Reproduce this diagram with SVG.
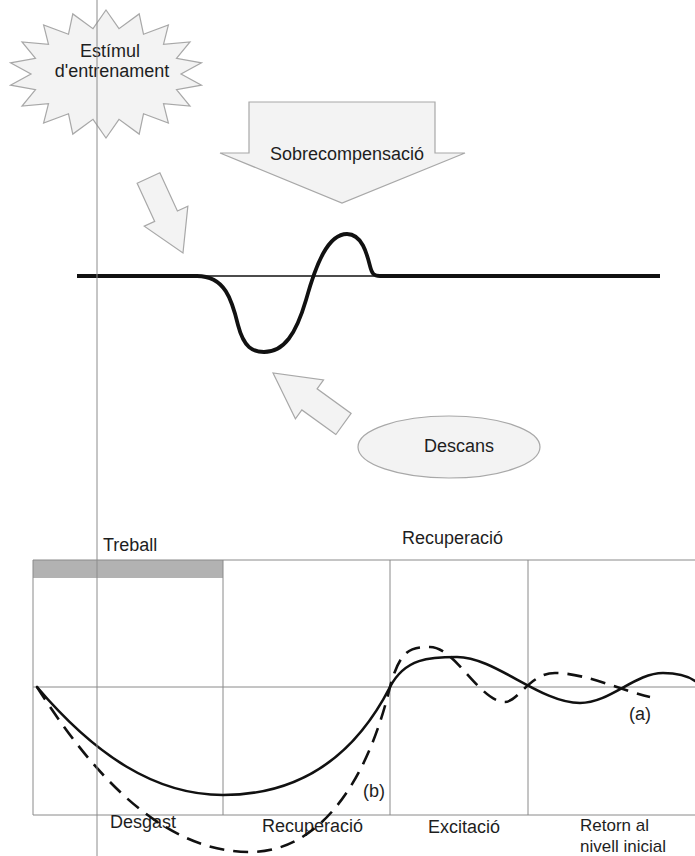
<svg xmlns="http://www.w3.org/2000/svg" width="695" height="856" viewBox="0 0 695 856">
<style>
.t{font-family:"Liberation Sans",Arial,sans-serif;font-size:18px;fill:#1e1e1e}
.s{font-size:17px}
.shape{fill:#f3f3f3;stroke:#a8a8a8;stroke-width:1.2}
.grid{stroke:#8a8a8a;stroke-width:1;fill:none}
.curve{fill:none;stroke:#111;stroke-width:2.6;stroke-linecap:round}
.dash{fill:none;stroke:#111;stroke-width:2.6;stroke-dasharray:15 9}
</style>
<rect width="695" height="856" fill="#fff"/>

<g id="estimul">
<polygon class="shape" points="106,10 119,28.7 139.2,13.9 143.5,34.2 168.4,25 163.5,44.4 190,42 176.5,58.3 201.5,62.9 181,74 201.5,85.1 176.5,89.7 190,106 163.5,103.6 168.4,123 143.5,113.8 139.2,134.1 119,119.3 106,138 93,119.3 72.8,134.1 68.5,113.8 43.6,123 48.5,103.6 22,106 35.5,89.7 10.5,85.1 31,74 10.5,62.9 35.5,58.3 22,42 48.5,44.4 43.6,25 68.5,34.2 72.8,13.9 93,28.7"/>
<text class="t" x="110" y="57" text-anchor="middle">Estímul</text>
<text class="t" x="112" y="77" text-anchor="middle">d'entrenament</text>
</g>

<g id="sobrecompensacio">
<polygon class="shape" points="249,102 435,102 435,153 465,153 342,203 220,153 249,153"/>
<text class="t" x="347" y="160" text-anchor="middle">Sobrecompensació</text>
</g>

<g id="descans">
<ellipse class="shape" cx="449" cy="447" rx="91" ry="31"/>
<text class="t" x="459" y="452" text-anchor="middle">Descans</text>
</g>

<g id="connectors">
<polygon class="shape" transform="translate(148.5,178) rotate(65.3)" points="0,-12.5 42,-12.5 42,-24 82.5,0 42,24 42,12.5 0,12.5"/>
<polygon class="shape" transform="translate(343.5,424) rotate(215.9)" points="0,-13 42,-13 42,-24 87,0 42,24 42,13 0,13"/>
</g>

<g id="curva-superior">
<line x1="77" y1="276" x2="660" y2="276" stroke="#111" stroke-width="1.4"/>
<path d="M77,276 H197 C225,276 232,300 238,325 C244,348 253,352 264,352 C284,352 296,334 306,300 C316,264 328,234 347,234 C362,234 367,254 370,266 C372,274 374,276 380,276 H660" fill="none" stroke="#111" stroke-width="3.8" stroke-linejoin="round"/>
</g>

<g id="grafic">
<rect x="33" y="560" width="190" height="18" fill="#b2b2b2"/>
<path class="grid" d="M33,560 H695 M33,560 V815 M223,560 V815 M390,560 V815 M528,560 V815 M33,815 H695 M33,687 H695"/>
<text class="t" x="103" y="551">Treball</text>
<text class="t" x="402" y="544">Recuperació</text>
<text class="t" x="110" y="828">Desgast</text>
<text class="t" x="262" y="832">Recuperació</text>
<text class="t" x="428" y="833">Excitació</text>
<text class="t s" x="580" y="831">Retorn al</text>
<text class="t s" x="580" y="852">nivell inicial</text>
<text class="t" x="629" y="720">(a)</text>
<text class="t" x="363" y="797">(b)</text>
<path class="curve" d="M37,687 C95,755 155,795 223,795 C290,795 350,765 390,687 C405,658 430,657 457,657 C495,657 540,703 580,703 C610,703 635,673 663,673 C680,673 688,676 695,681"/>
<path class="dash" d="M37,687 C90,770 160,852 250,852 C315,852 365,790 390,687 C400,650 410,647 430,647 C455,647 480,702 505,702 C518,702 530,673 555,673 C585,673 620,690 650,697"/>
</g>

<line x1="97" y1="0" x2="97" y2="856" stroke="#8c8c8c" stroke-width="1"/>
</svg>
